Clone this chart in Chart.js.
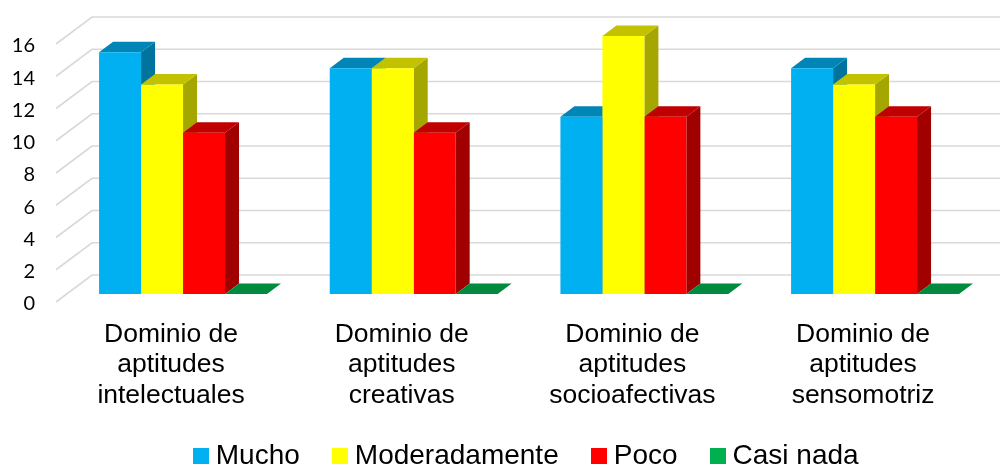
<!DOCTYPE html>
<html><head><meta charset="utf-8">
<style>html,body{margin:0;padding:0;background:#fff}canvas{display:block}</style>
<script src="https://cdn.jsdelivr.net/npm/chart.js@4"></script></head>
<body><canvas id="c" width="1000" height="464"></canvas>
<script>
const categories = [
  ["Dominio de","aptitudes","intelectuales"],
  ["Dominio de","aptitudes","creativas"],
  ["Dominio de","aptitudes","socioafectivas"],
  ["Dominio de","aptitudes","sensomotriz"]
];
const mucho = [15,14,11,14];
const moderadamente = [13,14,16,13];
const poco = [10,10,11,11];
const casiNada = [0,0,0,0];
const seriesNames = ["Mucho","Moderadamente","Poco","Casi nada"];
const frontColors = ["#00B0F0","#FFFF00","#FF0000","#00B050"];
const topColors = ["#0086B6","#C2C200","#C00000","#008A3E"];
const sideColors = ["#00739E","#A6A600","#A00000","#00733A"];
const BAR_SHIFT_X = 12, BAR_SHIFT_Y = -10, GRID_SHIFT_Y = -2, DEPTH_X = 14, DEPTH_Y = 10.5, WALL_L = 56, WALL_X = 36, WALL_Y = 27, LEGEND_SHIFT = 40.5;

function swatch(color){
  const s = document.createElement('canvas'); s.width = 16; s.height = 16;
  const g = s.getContext('2d'); g.fillStyle = color; g.fillRect(0,0,16,16);
  return s;
}
function poly(ctx, color, pts){
  ctx.fillStyle = color; ctx.beginPath();
  pts.forEach((p,i)=> i ? ctx.lineTo(p[0],p[1]) : ctx.moveTo(p[0],p[1]));
  ctx.closePath(); ctx.fill();
}
const bars3d = {
  id:'bars3d',
  afterLayout(chart){ chart.legend.left += LEGEND_SHIFT; chart.legend.right += LEGEND_SHIFT; },
  beforeDatasetsDraw(chart){
    const ctx = chart.ctx, y = chart.scales.y;
    ctx.save();
    ctx.strokeStyle = '#D9D9D9'; ctx.lineWidth = 1.7;
    y.ticks.forEach(t=>{
      const py = y.getPixelForValue(t.value)+GRID_SHIFT_Y;
      ctx.beginPath(); ctx.moveTo(WALL_L,py); ctx.lineTo(WALL_L+WALL_X,py-WALL_Y); ctx.lineTo(1000,py-WALL_Y); ctx.stroke();
    });
    ctx.restore();
    ctx.save();
    ctx.translate(BAR_SHIFT_X,BAR_SHIFT_Y);
    categories.forEach((_,i)=>{
      chart.data.datasets.forEach((d,k)=>{
        const b = chart.getDatasetMeta(k).data[i];
        const l = b.x-b.width/2, r = b.x+b.width/2, t = b.y, bt = b.base;
        if (bt-t>0.5) poly(ctx, sideColors[k], [[r,t],[r+DEPTH_X,t-DEPTH_Y],[r+DEPTH_X,bt-DEPTH_Y],[r,bt]]);
        poly(ctx, topColors[k], [[l,t],[l+DEPTH_X,t-DEPTH_Y],[r+DEPTH_X,t-DEPTH_Y],[r,t]]);
      });
    });
  },
  afterDatasetsDraw(chart){ chart.ctx.restore(); }
};
new Chart(document.getElementById('c'),{
  type:'bar',
  data:{labels:categories,datasets:[mucho,moderadamente,poco,casiNada].map((v,k)=>({
    label:seriesNames[k],data:v,backgroundColor:frontColors[k],borderWidth:0,clip:false,
    categoryPercentage:0.728,barPercentage:1
  }))},
  plugins:[bars3d],
  options:{
    responsive:false,animation:false,
    layout:{padding:{left:0,right:21.6,top:46,bottom:-16}},
    plugins:{
      tooltip:{enabled:false},
      legend:{position:'bottom',labels:{
        usePointStyle:true,boxWidth:1,boxHeight:1,padding:40,color:'#000',
        font:{family:'"Liberation Sans"',size:28},
        generateLabels:()=>seriesNames.map((n,k)=>({text:n,fillStyle:frontColors[k],strokeStyle:frontColors[k],lineWidth:0,pointStyle:swatch(frontColors[k]),datasetIndex:k,hidden:false}))
      }}
    },
    scales:{
      x:{grid:{display:false},border:{display:false},
        afterFit:s=>{s.height=98; s._computeLabelArea=()=>undefined;},
        ticks:{autoSkip:false,maxRotation:0,minRotation:0,color:'#000',padding:7,
          font:{family:'"Liberation Sans"',size:26.5,lineHeight:1.15}}},
      y:{min:0,max:16,grid:{display:false},border:{display:false},
        afterFit:s=>{s.width=55.7},
        ticks:{stepSize:2,color:'#000',padding:12.7,font:{family:'Lato',size:20}}}
    }
  }
});
</script></body></html>
